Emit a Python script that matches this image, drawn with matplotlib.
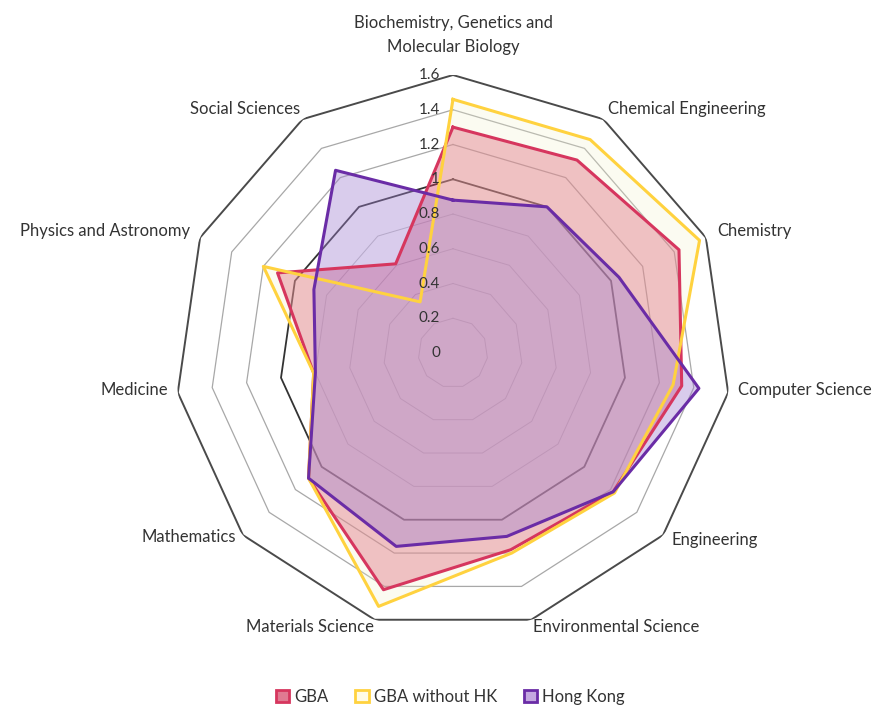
import numpy as np
import matplotlib
matplotlib.use("Agg")
import matplotlib.pyplot as plt
import matplotlib.patches as mpatches

plt.rcParams['font.family'] = ['Lato', 'DejaVu Sans']

categories = ["Biochemistry, Genetics and\nMolecular Biology", "Chemical Engineering",
              "Chemistry", "Computer Science", "Engineering", "Environmental Science",
              "Materials Science", "Mathematics", "Medicine", "Physics and Astronomy",
              "Social Sciences"]

gba = [1.30, 1.32, 1.43, 1.33, 1.22, 1.18, 1.42, 1.10, 0.81, 1.11, 0.61]
gba_no_hk = [1.46, 1.46, 1.56, 1.28, 1.23, 1.20, 1.52, 1.10, 0.81, 1.20, 0.35]
hong_kong = [0.88, 1.00, 1.05, 1.43, 1.22, 1.10, 1.16, 1.10, 0.80, 0.88, 1.25]

rings = [0.2, 0.4, 0.6, 0.8, 1.0, 1.2, 1.4, 1.6]
ring_labels = ["0", "0.2", "0.4", "0.6", "0.8", "1", "1.2", "1.4", "1.6"]

# label offsets in pixels from the outer vertex
label_offsets = [(0, 20), (5, 10), (11, 7), (10, 3), (8, -5), (2, -7),
                 (-1, -7), (-7, -2), (-10, 3), (-10, 7), (-3, 10)]

n = len(categories)
theta = np.linspace(0, 2 * np.pi, n, endpoint=False)
theta_c = np.append(theta, theta[0])


def closed(v):
    return np.append(v, v[0])


fig = plt.figure(figsize=(8.83, 7.11), dpi=100)
ax = fig.add_axes([0.198, 0.1125, 0.63, 0.782], projection='polar')
ax.set_theta_zero_location('N')
ax.set_theta_direction(-1)
ax.set_ylim(0, 1.6)
ax.axis('off')

# polygon grid
for r in rings:
    if r == 1.6:
        col, lw = '#4a4a4a', 1.4
    elif r == 1.0:
        col, lw = '#333333', 1.3
    elif r > 1.0:
        col, lw = '#a8a8a8', 0.9
    else:
        col, lw = '#c4c4c4', 0.7
    ax.plot(theta_c, [r] * (n + 1), color=col, lw=lw, zorder=1)

series = [
    (gba, '#d6365e', '#d6365e', 0.38, "GBA"),
    (gba_no_hk, '#ffd23f', '#f0f0c8', 0.25, "GBA without HK"),
    (hong_kong, '#6a2ca6', '#a080d0', 0.40, "Hong Kong"),
]
for vals, edge, fill, alpha, name in series:
    ax.fill(theta_c, closed(vals), color=fill, alpha=alpha, lw=0, zorder=2)
for vals, edge, fill, alpha, name in series:
    ax.plot(theta_c, closed(vals), color=edge, lw=2.2, zorder=3)

# radial tick labels
for r, lab in zip([0] + rings, ring_labels):
    ax.annotate(lab, xy=(0, r), xytext=(-13, 0), textcoords='offset pixels',
                ha='right', va='center', fontsize=11, color='#333333', zorder=5)

# category labels
for t, lab, (dx, dy) in zip(theta, categories, label_offsets):
    s = np.sin(t)
    if abs(s) < 1e-6:
        ha, va = 'center', 'bottom'
    elif s > 0:
        ha, va = 'left', 'center'
    else:
        ha, va = 'right', 'center'
    ax.annotate(lab, xy=(t, 1.6), xytext=(dx, dy), textcoords='offset pixels',
                ha=ha, va=va, fontsize=12, color='#333333', linespacing=1.6)

handles = [
    mpatches.Patch(facecolor='#e07a92', edgecolor='#d6365e', lw=2, label="GBA"),
    mpatches.Patch(facecolor='#fffbe6', edgecolor='#ffd23f', lw=2, label="GBA without HK"),
    mpatches.Patch(facecolor='#c4a8e0', edgecolor='#6a2ca6', lw=2, label="Hong Kong"),
]
fig.legend(handles=handles, loc='center', bbox_to_anchor=(0.51, 0.02), ncol=3,
           frameon=False, fontsize=12, handlelength=0.8, handleheight=0.8,
           handletextpad=0.3, columnspacing=1.6, labelcolor='#333333')

fig.savefig("out.png", dpi=100)
